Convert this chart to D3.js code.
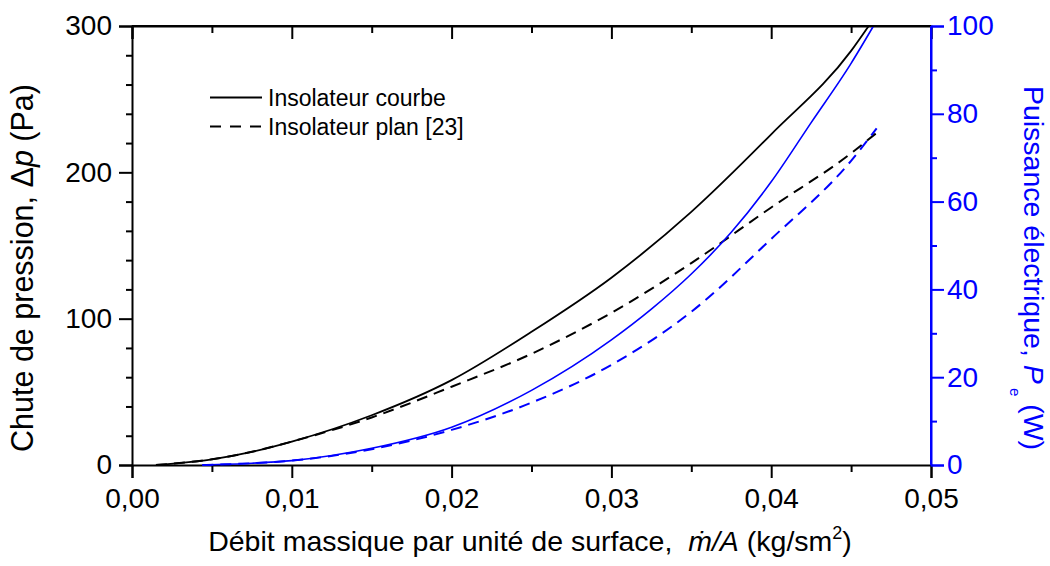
<!DOCTYPE html>
<html>
<head>
<meta charset="utf-8">
<script src="https://cdn.jsdelivr.net/npm/d3@7"></script>
<style>
  html, body { margin: 0; padding: 0; background: #fff; }
  svg { display: block; font-family: "Liberation Sans", Arial, sans-serif; }
</style>
</head>
<body>
<svg id="chart" width="1050" height="566"></svg>
<script>
// Mass flow per unit area (kg/s·m²)
const flowCourbe = [0.0015, 0.005, 0.0075, 0.01, 0.015, 0.02, 0.025, 0.03, 0.035, 0.04, 0.045, 0.0461];
// Pressure drop Δp (Pa), curved collector
const dpCourbe   = [0, 3.9, 9, 16, 34, 58, 91, 128, 173, 226, 283, 300];

const flowPlan = [0.0015, 0.005, 0.0075, 0.01, 0.015, 0.02, 0.025, 0.03, 0.035, 0.04, 0.045, 0.0466];
// Pressure drop Δp (Pa), flat collector [23]
const dpPlan   = [0, 3.9, 9, 16, 32.5, 53.5, 76, 104, 138, 176, 213, 227];

const flowPowCourbe = [0.0044, 0.0075, 0.01, 0.015, 0.02, 0.025, 0.03, 0.0325, 0.035, 0.0375, 0.04, 0.0425, 0.045, 0.0464];
// Electrical power Pe (W), curved collector
const powCourbe     = [0, 0.4, 1.0, 3.8, 8.6, 17, 28.5, 35.5, 43.5, 53, 64.5, 78, 91.5, 100];

const flowPowPlan = [0.0044, 0.0075, 0.01, 0.015, 0.02, 0.025, 0.03, 0.035, 0.04, 0.045, 0.0466];
// Electrical power Pe (W), flat collector [23]
const powPlan     = [0, 0.4, 1.0, 3.6, 8.0, 14.2, 22.8, 34.9, 51.5, 69.3, 76.7];

const xTicks = [0, 0.01, 0.02, 0.03, 0.04, 0.05];
const yLeftTicks = [0, 100, 200, 300];
const yRightTicks = [0, 20, 40, 60, 80, 100];

const legendLabels = ["Insolateur courbe", "Insolateur plan [23]"];

const svg = d3.select("#chart");
const m = { left: 132, right: 931, top: 26, bottom: 465 };
const BLUE = "#0000ff";

const x = d3.scaleLinear().domain([0, 0.05]).range([m.left, m.right]);
const yL = d3.scaleLinear().domain([0, 300]).range([m.bottom, m.top]);
const yR = d3.scaleLinear().domain([0, 100]).range([m.bottom, m.top]);

const fmt = d => d3.format(".2f")(d).replace(".", ",");

// Minor ticks only (no labels, no domain line)
function minorAxis(g, axis) { g.call(axis); g.selectAll("text").remove(); g.select(".domain").remove(); }

// Bottom axis
const gB = svg.append("g").attr("transform", `translate(0,${m.bottom})`);
gB.append("g").call(g => minorAxis(g, d3.axisBottom(x).tickValues(d3.range(0.005, 0.05, 0.01)).tickSize(7)));
gB.append("g").call(d3.axisBottom(x).tickValues(xTicks).tickFormat(fmt).tickSize(13).tickPadding(10));

// Top axis (ticks pointing inward, no labels)
const gT = svg.append("g").attr("transform", `translate(0,${m.top})`);
gT.append("g").call(g => minorAxis(g, d3.axisBottom(x).tickValues(d3.range(0.005, 0.05, 0.01)).tickSize(7)));
gT.append("g").call(g => { g.call(d3.axisBottom(x).tickValues(xTicks).tickSize(13)); g.selectAll("text").remove(); });

// Left axis
const gL = svg.append("g").attr("transform", `translate(${m.left},0)`);
gL.append("g").call(g => minorAxis(g, d3.axisLeft(yL).tickValues(d3.range(20, 300, 20).filter(v => v % 100 !== 0)).tickSize(6)));
gL.append("g").call(d3.axisLeft(yL).tickValues(yLeftTicks).tickSize(13).tickPadding(7));

// Right axis (blue)
const gR = svg.append("g").attr("transform", `translate(${m.right},0)`);
gR.append("g").call(g => minorAxis(g, d3.axisRight(yR).tickValues(d3.range(10, 100, 20)).tickSize(6)));
gR.append("g").call(d3.axisRight(yR).tickValues(yRightTicks).tickSize(13).tickPadding(3));

svg.selectAll(".domain").attr("stroke-width", 2).attr("stroke", "#000");
svg.selectAll(".tick line").attr("stroke-width", 2).attr("stroke", "#000");
svg.selectAll(".tick text").attr("font-size", 28).attr("font-family", "Liberation Sans, Arial, sans-serif").attr("fill", "#000");
gR.selectAll(".domain").attr("stroke", BLUE);
gR.selectAll(".tick line").attr("stroke", BLUE);
gR.selectAll(".tick text").attr("fill", BLUE);

// Curves
const lineL = (xs, ys) => d3.line().x((d, i) => x(xs[i])).y(d => yL(d)).curve(d3.curveMonotoneX)(ys);
const lineR = (xs, ys) => d3.line().x((d, i) => x(xs[i])).y(d => yR(d)).curve(d3.curveMonotoneX)(ys);

const plot = svg.append("g");
plot.append("path").attr("d", lineL(flowPlan, dpPlan)).attr("fill", "none").attr("stroke", "#000").attr("stroke-width", 2).attr("stroke-dasharray", "11,7");
plot.append("path").attr("d", lineL(flowCourbe, dpCourbe)).attr("fill", "none").attr("stroke", "#000").attr("stroke-width", 1.8);
plot.append("path").attr("d", lineR(flowPowPlan, powPlan)).attr("fill", "none").attr("stroke", BLUE).attr("stroke-width", 2).attr("stroke-dasharray", "11,7");
plot.append("path").attr("d", lineR(flowPowCourbe, powCourbe)).attr("fill", "none").attr("stroke", BLUE).attr("stroke-width", 1.6);

// Frame lines drawn above the curves
svg.append("line").attr("x1", m.left).attr("x2", m.right).attr("y1", m.top).attr("y2", m.top).attr("stroke", "#000").attr("stroke-width", 2);
svg.append("line").attr("x1", m.right).attr("x2", m.right).attr("y1", m.top).attr("y2", m.bottom).attr("stroke", BLUE).attr("stroke-width", 2);

// Legend
const leg = svg.append("g");
legendLabels.forEach((t, i) => {
  const ly = 97.5 + i * 29;
  leg.append("line").attr("x1", 210).attr("x2", 262).attr("y1", ly).attr("y2", ly)
    .attr("stroke", "#000").attr("stroke-width", 1.8).attr("stroke-dasharray", i ? "11,9" : null);
  leg.append("text").attr("x", 268).attr("y", ly + 8).attr("font-size", 23).text(t);
});

// Axis titles
const xt = svg.append("text").attr("x", 530).attr("y", 551).attr("text-anchor", "middle")
  .attr("font-size", 28.5).style("white-space", "pre");
xt.append("tspan").text("Débit massique par unité de surface,  ");
xt.append("tspan").attr("font-style", "italic").text("ṁ/A");
xt.append("tspan").text(" (kg/sm");
xt.append("tspan").attr("font-size", 18).attr("dy", -12).text("2");
xt.append("tspan").attr("dy", 12).text(")");

const ylt = svg.append("text").attr("transform", "translate(33,268) rotate(-90)").attr("text-anchor", "middle").attr("font-size", 30.5);
ylt.append("tspan").text("Chute de pression, Δ");
ylt.append("tspan").attr("font-style", "italic").text("p");
ylt.append("tspan").text(" (Pa)");

const yrt = svg.append("text").attr("transform", "translate(1024,268) rotate(90)").attr("text-anchor", "middle")
  .attr("font-size", 28.5).attr("fill", BLUE).style("white-space", "pre");
yrt.append("tspan").text("Puissance électrique, ");
yrt.append("tspan").attr("font-style", "italic").text("P");
yrt.append("tspan").attr("font-size", 15).attr("dy", 14).text(" e");
yrt.append("tspan").attr("dy", -14).text(" (W)");
</script>
</body>
</html>
